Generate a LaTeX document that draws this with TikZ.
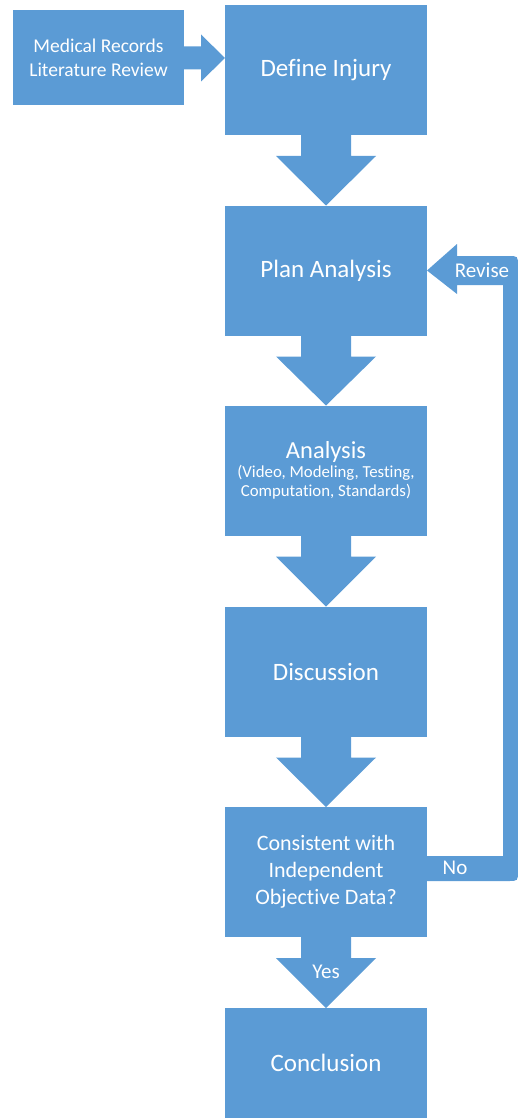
\documentclass[tikz,border=0pt]{standalone}
\usepackage{fontspec}
\setmainfont{Carlito}[Ligatures={NoCommon,NoContextual}]
\usetikzlibrary{calc}
\definecolor{flowblue}{HTML}{5B9BD5}
\begin{document}
\begin{tikzpicture}[x=1pt,y=-1pt,
  stepbox/.style={fill=flowblue, text=white, inner sep=0pt, outer sep=0pt,
    minimum width=202pt, minimum height=130pt, align=center,
    font=\fontsize{25}{30}\selectfont},
  blockarrow/.style={fill=flowblue},
  lbl/.style={text=white, inner sep=0pt, font=\fontsize{21}{25}\selectfont}]
\useasboundingbox (0,0) rectangle (518,1118);

% process boxes
\node[stepbox, minimum width=171pt, minimum height=95pt,
      font=\fontsize{19.5}{24}\selectfont] (med) at (98.5,58)
      {Medical Records\\Literature Review};
\node[stepbox] (def)  at (326,70)    {\raisebox{-2pt}{Define Injury}};
\node[stepbox] (plan) at (326,270.5) {Plan Analysis};
\node[stepbox, font=\fontsize{16.8}{19}\selectfont] (ana) at (326,470.5)
      {{\fontsize{24.5}{24}\selectfont Analysis}\\[0pt](Video, Modeling, Testing,\\Computation, Standards)};
\node[stepbox] (disc) at (326,671.5) {Discussion};
\node[stepbox, font=\fontsize{22}{27}\selectfont] (cons) at (326,872)
      {Consistent with\\Independent\\Objective Data?};
\node[stepbox, minimum height=110pt] (conc) at (326,1063) {Conclusion};

% block arrow into the first step
\fill[blockarrow] ($(med.east)+(0,-11.5)$) -- ($(med.east)+(17,-11.5)$)
  -- ($(med.east)+(17,-23.5)$) -- (def.west |- med.east)
  -- ($(med.east)+(17,23.5)$) -- ($(med.east)+(17,11.5)$)
  -- ($(med.east)+(0,11.5)$) -- cycle;

% downward block arrows between steps
\foreach \a/\b in {def/plan, plan/ana, ana/disc, disc/cons, cons/conc} {
  \fill[blockarrow] ($(\a.south)+(-25,0)$) -- ($(\a.south)+(-25,21)$)
    -- ($(\a.south)+(-50,21)$) -- (\b.north)
    -- ($(\a.south)+(50,21)$) -- ($(\a.south)+(25,21)$)
    -- ($(\a.south)+(25,0)$) -- cycle;
}

% feedback loop from the check back to planning
\fill[blockarrow] ($(cons.east)+(0,-16)$) -- ($(cons.east)+(76,-16)$)
  -- ($(plan.east)+(76,14.5)$) -- ($(plan.east)+(30,14.5)$)
  -- ($(plan.east)+(30,23.5)$) -- (plan.east)
  -- ($(plan.east)+(30,-26.5)$) -- ($(plan.east)+(30,-14.5)$)
  -- ($(plan.east)+(81,-14.5)$)
  .. controls ($(plan.east)+(91,-14.5)$) .. ($(plan.east)+(91,-4.5)$)
  -- ($(cons.east)+(91,-1)$)
  .. controls ($(cons.east)+(91,9)$) .. ($(cons.east)+(81,9)$)
  -- ($(cons.east)+(0,9)$) -- cycle;

% arrow labels
\node[lbl] (revise) at ($(plan.east)+(55,0)$) {Revise};
\node[lbl] (no) at ($(cons.east)+(28,-4)$) {No};
\node[lbl] (yes) at ($(cons.south)+(0,35)$) {Yes};
\end{tikzpicture}
\end{document}
